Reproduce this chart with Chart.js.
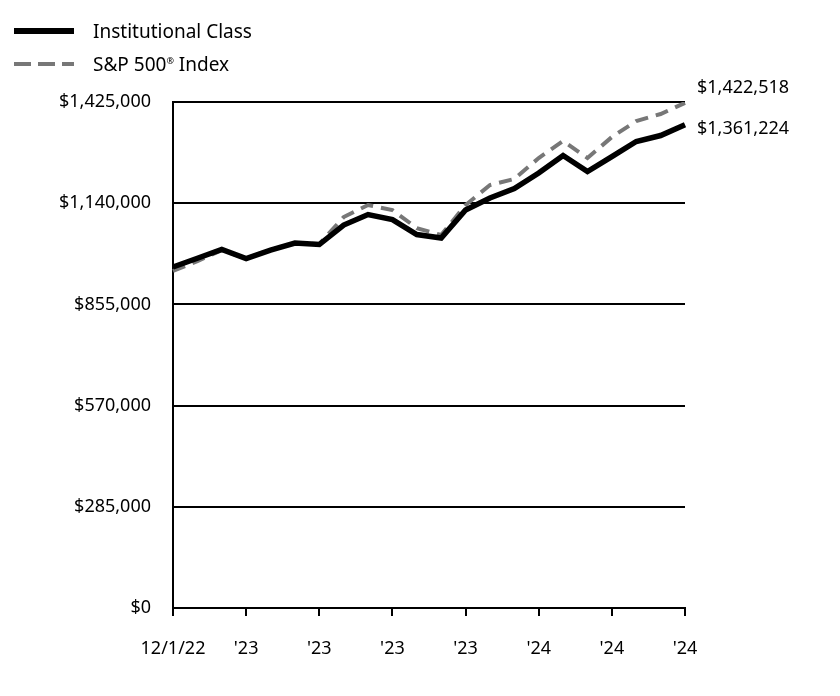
<!DOCTYPE html>
<html>
<head>
<meta charset="utf-8">
<script src="https://cdn.jsdelivr.net/npm/chart.js@4.4.1/dist/chart.umd.min.js"></script>
<style>
  html, body { margin: 0; padding: 0; background: #fff; }
  #wrap { position: relative; width: 840px; height: 696px; }
  #legend { position: absolute; left: 14px; top: 14px; font-family: "Noto Sans", sans-serif; font-size: 19px; color: #000; }
  .row { height: 33px; display: flex; align-items: center; }
  .swatch { width: 60px; margin-right: 19px; }
  .solid { height: 6px; background: #000; }
  .dash { height: 4px; background: repeating-linear-gradient(to right, #777 0 17px, transparent 17px 24px); }
  sup { font-size: 9px; position: relative; top: -3px; }
</style>
</head>
<body>
<div id="wrap">
  <canvas id="chart" width="840" height="696"></canvas>
  <div id="legend">
    <div class="row"><div class="swatch solid"></div>Institutional Class</div>
    <div class="row"><div class="swatch dash"></div>S&amp;P 500<sup>®</sup>&nbsp;Index</div>
  </div>
</div>
<script>
// monthly points, 12/1/22 .. 8/31/24
const months = ['12/1/22', 'Dec 22', 'Jan 23', 'Feb 23', 'Mar 23', 'Apr 23', 'May 23', 'Jun 23',
  'Jul 23', 'Aug 23', 'Sep 23', 'Oct 23', 'Nov 23', 'Dec 23', 'Jan 24', 'Feb 24',
  'Mar 24', 'Apr 24', 'May 24', 'Jun 24', 'Jul 24', 'Aug 24'];
const tickLabels = ['12/1/22', '', '', "'23", '', '', "'23", '', '', "'23", '', '', "'23", '', '',
  "'24", '', '', "'24", '', '', "'24"];

const institutional = [960300, 985000, 1009600, 984200, 1008100, 1027800, 1023600, 1078500,
  1108100, 1094000, 1051800, 1041900, 1120800, 1154600, 1181300, 1225000,
  1274200, 1229200, 1271400, 1313700, 1330600, 1361224];
const sp500 = [949000, 977000, 1008000, 984500, 1008500, 1027000, 1025000, 1101000,
  1134800, 1120800, 1070000, 1050400, 1134800, 1191200, 1208100, 1267200,
  1315100, 1267200, 1326300, 1371400, 1391100, 1422518];

const yMax = 1425000;
const yStep = 285000;

const fmt = v => '$' + v.toLocaleString('en-US');
const fontFamily = '"Noto Sans", sans-serif';

// labels at the end of each line
const endLabels = {
  id: 'endLabels',
  afterDatasetsDraw(chart) {
    const ctx = chart.ctx;
    const offsets = [4, -15];
    ctx.save();
    ctx.font = '18px ' + fontFamily;
    ctx.fillStyle = '#000';
    ctx.textBaseline = 'middle';
    ctx.textAlign = 'left';
    chart.data.datasets.forEach((ds, i) => {
      const meta = chart.getDatasetMeta(i);
      const pt = meta.data[meta.data.length - 1];
      ctx.fillText(fmt(ds.data[ds.data.length - 1]), pt.x + 12, pt.y + offsets[i]);
    });
    ctx.restore();
  }
};

new Chart(document.getElementById('chart').getContext('2d'), {
  type: 'line',
  data: {
    labels: months,
    datasets: [
      {
        label: 'Institutional Class',
        data: institutional,
        borderColor: '#000',
        borderWidth: 5.5,
        pointRadius: 0,
        tension: 0,
        order: 0
      },
      {
        label: 'S&P 500® Index',
        data: sp500,
        borderColor: '#777',
        borderWidth: 4,
        borderDash: [13, 8],
        pointRadius: 0,
        tension: 0,
        order: 1
      }
    ]
  },
  options: {
    responsive: false,
    animation: false,
    layout: { padding: { top: 102, right: 155, bottom: 12, left: 0 } },
    plugins: {
      legend: { display: false },
      tooltip: { enabled: false }
    },
    scales: {
      x: {
        grid: { drawOnChartArea: false, drawTicks: true, tickLength: 8, color: '#000', lineWidth: 2 },
        border: { color: '#000', width: 2 },
        ticks: {
          autoSkip: false,
          maxRotation: 0,
          padding: 22,
          color: '#000',
          font: { family: fontFamily, size: 18 },
          callback: (v, i) => tickLabels[i] === '' ? null : tickLabels[i]
        },
        afterFit: s => { s.height = 76; }
      },
      y: {
        min: 0,
        max: yMax,
        grid: { color: '#000', lineWidth: 2, drawTicks: false },
        border: { color: '#000', width: 2 },
        ticks: {
          stepSize: yStep,
          padding: 22,
          color: '#000',
          font: { family: fontFamily, size: 18 },
          callback: v => fmt(v)
        },
        afterFit: s => { s.width = 173; }
      }
    }
  },
  plugins: [endLabels]
});
</script>
</body>
</html>
